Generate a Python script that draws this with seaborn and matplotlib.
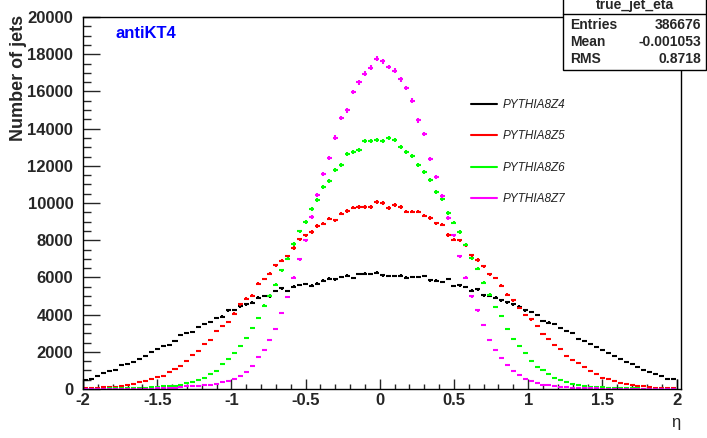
import numpy as np
import pandas as pd
import matplotlib
matplotlib.use("Agg")
import matplotlib.pyplot as plt
import seaborn as sns
from matplotlib.lines import Line2D
from matplotlib.patches import Rectangle
from matplotlib.ticker import MultipleLocator, FormatStrFormatter

# ==========================================
# Data: true jet eta, 100 bins from -2 to 2
# ==========================================
eta_lo, eta_hi, n_bins = -2.0, 2.0, 100

z4 = [505, 559, 720, 844, 952, 1022, 1274, 1365, 1473, 1597,
      1774, 2011, 2134, 2296, 2365, 2564, 2903, 2994, 3064, 3355,
      3479, 3586, 3817, 3892, 4231, 4247, 4446, 4554, 4645, 4914,
      5000, 4984, 5269, 5414, 5269, 5505, 5591, 5645, 5559, 5666,
      5828, 5935, 5897, 6021, 6092, 5967, 6182, 6204, 6182, 6257,
      6113, 6077, 6077, 6092, 5988, 6021, 6021, 6077, 5844, 5828,
      5753, 5914, 5537, 5575, 5484, 5290, 5360, 5037, 5000, 4914,
      4769, 4661, 4554, 4430, 4231, 4140, 3962, 3640, 3570, 3494,
      3263, 3102, 3032, 2709, 2564, 2403, 2258, 2118, 1935, 1774,
      1613, 1452, 1328, 1183, 1043, 935, 828, 720, 538, 521]

z5 = [38, 56, 73, 91, 91, 127, 145, 217, 271, 378,
      414, 522, 629, 701, 898, 1095, 1256, 1507, 1812, 2063,
      2421, 2636, 3102, 3371, 3612, 4052, 4553, 4858, 5019, 5665,
      5915, 6202, 6650, 6901, 7134, 7580, 8047, 8263, 8440, 8763,
      8890, 9159, 9069, 9428, 9571, 9750, 9786, 9786, 9786, 10055,
      10001, 9732, 9876, 9768, 9535, 9535, 9535, 9320, 9195, 8908,
      8836, 8281, 8030, 7994, 7725, 7188, 6937, 6596, 6166, 5969,
      5557, 5073, 4769, 4356, 3962, 3738, 3371, 2941, 2672, 2385,
      2134, 1794, 1543, 1418, 1184, 969, 790, 611, 522, 414,
      324, 289, 217, 181, 163, 91, 73, 56, 38, 38]

z6 = [15, 18, 20, 25, 30, 35, 40, 50, 56, 73,
      73, 109, 109, 145, 163, 163, 235, 306, 396, 468,
      593, 826, 988, 1328, 1605, 1915, 2331, 2726, 3263, 3801,
      4482, 5019, 5611, 6381, 7009, 7797, 8478, 8980, 9661, 10145,
      10861, 11166, 11757, 12062, 12653, 12743, 12869, 13334, 13334, 13388,
      13334, 13496, 13370, 13030, 12743, 12510, 12044, 11668, 11220, 10611,
      10198, 9446, 8944, 8442, 7761, 7027, 6471, 5719, 5073, 4410,
      3908, 3210, 2708, 2313, 1937, 1507, 1202, 1005, 808, 611,
      504, 378, 289, 217, 163, 127, 109, 91, 73, 60,
      50, 42, 36, 30, 26, 22, 20, 18, 15, 12]

z7 = [2, 3, 3, 4, 5, 6, 8, 10, 12, 15,
      18, 22, 28, 35, 50, 70, 100, 135, 150, 170,
      195, 230, 290, 370, 450, 557, 701, 934, 1220, 1722,
      2116, 2654, 3245, 4087, 4948, 5987, 6973, 7994, 9248, 10413,
      11578, 12420, 13514, 14571, 14983, 15968, 16488, 16954, 17277, 17761,
      17617, 17312, 17116, 16649, 16183, 15503, 14445, 13711, 12366, 11399,
      10377, 9195, 8263, 7134, 5987, 4984, 4231, 3442, 2636, 2081,
      1668, 1310, 969, 737, 557, 430, 306, 235, 199, 163,
      127, 100, 80, 65, 50, 40, 32, 25, 20, 16,
      13, 10, 8, 6, 5, 4, 3, 3, 2, 2]

labels = ["PYTHIA8Z4", "PYTHIA8Z5", "PYTHIA8Z6", "PYTHIA8Z7"]
colors = ["#000000", "#ff0000", "#00ff00", "#ff00ff"]

stat_names = ["Entries", "Mean", "RMS"]
stat_values = ["386676", "-0.001053", "0.8718"]

edges = np.linspace(eta_lo, eta_hi, n_bins + 1)
centers = 0.5 * (edges[:-1] + edges[1:])
half_w = 0.5 * (edges[1] - edges[0])

df = pd.DataFrame({"eta": centers, labels[0]: z4, labels[1]: z5,
                   labels[2]: z6, labels[3]: z7})

# ==========================================
# Style (ROOT-like)
# ==========================================
sns.set_style("white", {"axes.edgecolor": "black"})
plt.rcParams['font.family'] = ['Liberation Sans', 'DejaVu Sans']
plt.rcParams['axes.unicode_minus'] = False

fig = plt.figure(figsize=(7.07, 4.38), dpi=100)
ax = fig.add_axes([83 / 707, 49 / 438, 598 / 707, 372 / 438])

for lab, col in zip(labels, colors):
    y = df[lab].to_numpy()
    ax.errorbar(df["eta"], y, xerr=half_w * 0.85, yerr=np.sqrt(y),
                fmt="none", ecolor=col, elinewidth=1.5, capsize=0)

# histogram edge lines of the first histogram
ax.vlines([edges[0], edges[-1]], 0, [z4[0], z4[-1]], colors="black", lw=1)

ax.set_xlim(-2.0, 2.03)
ax.set_ylim(0, 20000)

ax.xaxis.set_major_locator(MultipleLocator(0.5))
ax.xaxis.set_minor_locator(MultipleLocator(0.1))
ax.xaxis.set_major_formatter(FormatStrFormatter("%g"))
ax.yaxis.set_major_locator(MultipleLocator(2000))
ax.yaxis.set_minor_locator(MultipleLocator(500))
ax.tick_params(axis="x", which="major", direction="in", length=7.2, width=1,
               labelsize=12, pad=3, bottom=True)
ax.tick_params(axis="x", which="minor", direction="in", length=3.6, width=1,
               bottom=True)
ax.tick_params(axis="y", which="major", direction="in", length=12.2, width=1,
               labelsize=12, pad=7, left=True)
ax.tick_params(axis="y", which="minor", direction="in", length=6.1, width=1,
               left=True)
for t in ax.get_xticklabels() + ax.get_yticklabels():
    t.set_fontweight("bold")
for s in ax.spines.values():
    s.set_linewidth(1)
    s.set_color("black")

# axis titles
fig.text(19 / 707, 1 - 15 / 438, "Number of jets", rotation=90, ha="center",
         va="top", fontsize=13, fontweight="bold")
fig.text(676 / 707, 1 - 423 / 438, "η", ha="center", va="center", fontsize=12)

fig.text(115 / 707, 1 - 34 / 438, "antiKT4", color="#0000ff", ha="left",
         va="center", fontsize=12, fontweight="bold")

# legend
handles = [Line2D([0], [0], color=c, lw=1.5) for c in colors]
leg = ax.legend(handles, labels, loc="upper left",
                bbox_to_anchor=(471 / 707, 1 - 99 / 438),
                bbox_transform=fig.transFigure, frameon=False,
                prop={"size": 8.5, "style": "italic"},
                handlelength=2.2, handletextpad=0.5, labelspacing=1.64,
                borderpad=0, borderaxespad=0)
for t in leg.get_texts():
    t.set_color("#222222")

# stats box
box = Rectangle((563 / 707, 1 - 70 / 438), 143 / 707, 72 / 438,
                transform=fig.transFigure, facecolor="white",
                edgecolor="black", lw=1, zorder=5)
fig.patches.append(box)
fig.add_artist(Line2D([563 / 707, 706 / 707], [1 - 13.5 / 438] * 2,
                      transform=fig.transFigure, color="black", lw=1, zorder=6))
fig.text(635 / 707, 1 - 5 / 438, "true_jet_eta", ha="center", va="center",
         fontsize=10, fontweight="bold", zorder=7)
for i, (n, v) in enumerate(zip(stat_names, stat_values)):
    yy = 1 - (25 + 17 * i) / 438
    fig.text(570 / 707, yy, n, ha="left", va="center", fontsize=10,
             fontweight="bold", zorder=7)
    fig.text(701 / 707, yy, v, ha="right", va="center", fontsize=10,
             fontweight="bold", zorder=7)

fig.savefig("out.png", dpi=100)
